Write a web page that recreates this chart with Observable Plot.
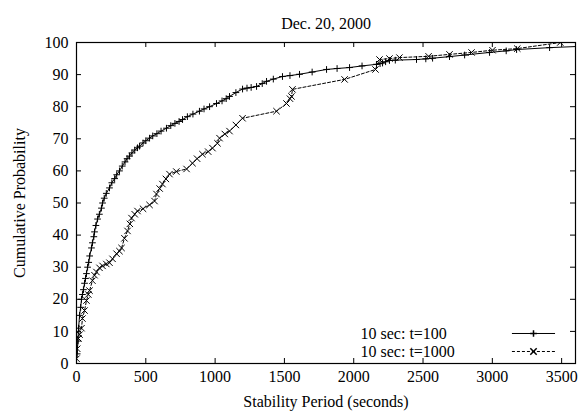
<!DOCTYPE html>
<html>
<head>
<meta charset="utf-8">
<script src="https://cdn.jsdelivr.net/npm/d3@7"></script>
<script src="https://cdn.jsdelivr.net/npm/@observablehq/plot@0.6"></script>
<style>
  html, body { margin: 0; padding: 0; background: #fff; }
  #chart svg { display: block; }
</style>
</head>
<body>
<div id="chart"></div>
<script>
const title = "Dec. 20, 2000";
const xLabel = "Stability Period (seconds)";
const yLabel = "Cumulative Probability";
const xTicks = [0, 500, 1000, 1500, 2000, 2500, 3000, 3500];
const yTicks = [0, 10, 20, 30, 40, 50, 60, 70, 80, 90, 100];

const seriesNames = ["10 sec: t=100", "10 sec: t=1000"];

const t100X = [5, 10, 15, 22, 30, 36, 43, 50, 58, 65, 72, 80, 88, 95, 108, 115, 125, 130, 140, 152, 165, 180, 188, 200, 215, 238, 255, 275, 290, 310, 330, 350, 365, 382, 400, 420, 440, 455, 480, 500, 527, 550, 580, 610, 649, 680, 710, 740, 765, 800, 840, 887, 920, 960, 1010, 1050, 1080, 1104, 1150, 1198, 1230, 1260, 1299, 1340, 1371, 1420, 1486, 1540, 1609, 1700, 1804, 1880, 1970, 2060, 2164, 2190, 2208, 2230, 2258, 2300, 2453, 2520, 2569, 2691, 2800, 2980, 3100, 3175, 3413, 3750];
const t100Y = [3, 7, 11, 15, 17.5, 20, 21.5, 23, 25, 26.5, 28, 30, 31.5, 33.5, 36, 37.6, 39.5, 41, 43, 45, 46.5, 48.4, 50, 51.5, 53, 54.7, 56.3, 57.6, 58.8, 60, 61.5, 62.8, 63.8, 64.6, 65.6, 66.5, 67.2, 67.7, 68.7, 69.4, 70.2, 70.9, 71.6, 72.4, 73.3, 74.1, 74.8, 75.4, 76, 76.9, 77.7, 78.6, 79.3, 80, 81, 81.8, 82.5, 83.2, 84.4, 85.5, 85.8, 86, 86.3, 87.2, 87.9, 88.6, 89.4, 89.7, 90.1, 90.8, 91.6, 91.9, 92.2, 92.7, 93.2, 93.4, 93.6, 94, 94.4, 94.5, 94.7, 94.9, 95.1, 95.6, 96.1, 96.9, 97.4, 97.8, 98.4, 99];

const t1000X = [0, 5, 14, 22, 36, 43, 58, 72, 85, 94, 115, 130, 144, 166, 188, 215, 238, 260, 289, 310, 325, 346, 368, 385, 397, 420, 440, 480, 527, 563, 577, 600, 620, 645, 671, 720, 794, 837, 870, 909, 950, 981, 1017, 1032, 1070, 1104, 1150, 1198, 1443, 1515, 1540, 1551, 1558, 1934, 2157, 2186, 2258, 2330, 2540, 2691, 2850, 3001, 3180, 3490];
const t1000Y = [1.5, 4.6, 7.8, 9, 11, 14, 16.5, 19.6, 21.5, 22.7, 25.8, 27.5, 28.5, 29.8, 30.4, 31, 31.4, 32.6, 34.2, 35, 36, 39, 41.3, 43.5, 45.3, 46.5, 47.5, 48.2, 49.4, 50.6, 52.8, 54.5, 55.9, 57.5, 59, 59.8, 60.6, 62.4, 63.8, 65.2, 66, 67.1, 68.6, 70.2, 71.5, 72.4, 74.3, 76.4, 78.6, 81, 82.5, 83.2, 85.4, 88.5, 91.6, 94.7, 95, 95.3, 95.7, 96.3, 96.9, 97.6, 98.1, 100];

// legend placement (in data units)
const legendTextX = 2049;
const legendY = [9.35, 3.74];
const legendLineX = [3145, 3456];
const legendMarkX = 3297;

const t100 = t100X.map((x, i) => ({x, y: t100Y[i]}));
const t1000 = t1000X.map((x, i) => ({x, y: t1000Y[i]}));

const W = 582, H = 414;
const mL = 76, mR = 7, mT = 42, mB = 51;
const fw = W - mL - mR, fh = H - mT - mB;
const FS = 16;
const xPerPx = 3600 / fw;

const chart = Plot.plot({
  width: W,
  height: H,
  marginLeft: mL,
  marginRight: mR,
  marginTop: mT,
  marginBottom: mB,
  style: {fontFamily: "'Liberation Serif', 'Times New Roman', serif", fontSize: FS + "px", background: "#fff", color: "#000"},
  x: {domain: [0, 3600]},
  y: {domain: [0, 100]},
  marks: [
    Plot.axisX({ticks: xTicks, tickFormat: d => String(d), tickSize: 0, tickPadding: 7, label: null, fontSize: FS}),
    Plot.axisY({ticks: yTicks, tickFormat: d => String(d), tickSize: 0, tickPadding: 8, label: null, fontSize: FS}),
    Plot.ruleY(yTicks, {y: d => d, insetRight: fw - 5, stroke: "#000"}),
    Plot.ruleY(yTicks, {y: d => d, insetLeft: fw - 5, stroke: "#000"}),
    Plot.ruleX(xTicks, {x: d => d, insetTop: fh - 5, stroke: "#000"}),
    Plot.ruleX(xTicks, {x: d => d, insetBottom: fh - 5, stroke: "#000"}),
    Plot.line(t100, {x: "x", y: "y", stroke: "#000", strokeWidth: 1, clip: true}),
    Plot.dot(t100, {x: "x", y: "y", symbol: "plus", r: 2.3, stroke: "#000", strokeWidth: 1, clip: true}),
    Plot.line(t1000, {x: "x", y: "y", stroke: "#000", strokeWidth: 1, strokeDasharray: "3,2", clip: true}),
    Plot.dot(t1000, {x: "x", y: "y", symbol: "times", r: 3, stroke: "#000", strokeWidth: 1, clip: true}),
    // legend
    Plot.text(seriesNames, {x: legendTextX, y: (d, i) => legendY[i], text: d => d, textAnchor: "start", fontSize: FS, fill: "#000"}),
    Plot.ruleY([legendY[0]], {y: d => d, x1: legendLineX[0], x2: legendLineX[1], stroke: "#000"}),
    Plot.ruleY([legendY[1]], {y: d => d, x1: legendLineX[0], x2: legendLineX[1], stroke: "#000", strokeDasharray: "3,2"}),
    Plot.dot([legendY[0]], {x: legendMarkX, y: d => d, symbol: "plus", r: 2.3, stroke: "#000"}),
    Plot.dot([legendY[1]], {x: legendMarkX, y: d => d, symbol: "times", r: 3, stroke: "#000"}),
    // titles
    Plot.text([title], {frameAnchor: "top", dy: -25, text: d => d, fontSize: FS, fill: "#000"}),
    Plot.text([xLabel], {frameAnchor: "bottom", dy: 43, text: d => d, fontSize: FS, fill: "#000"}),
    Plot.text([yLabel], {x: -57 * xPerPx, y: 50, rotate: -90, text: d => d, fontSize: FS, fill: "#000"}),
    Plot.frame({stroke: "#000", strokeWidth: 1.2})
  ]
});
document.getElementById("chart").appendChild(chart);
</script>
</body>
</html>
